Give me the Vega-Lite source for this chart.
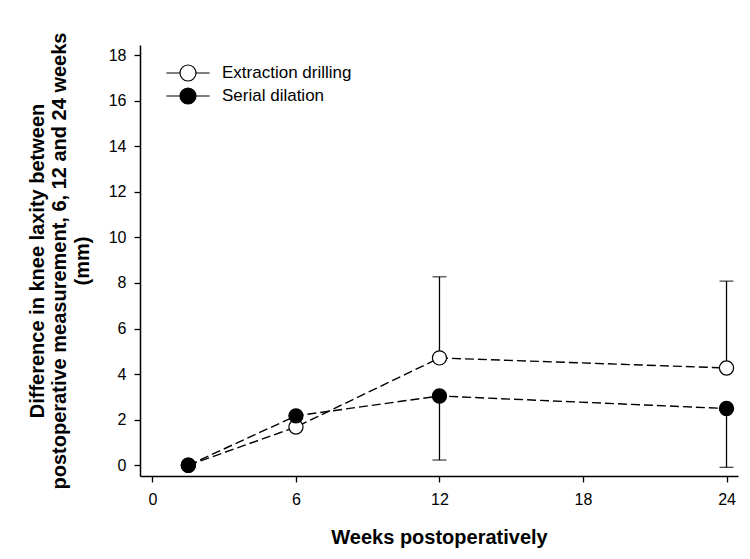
{
  "$schema": "https://vega.github.io/schema/vega-lite/v6.json",
  "width": 598,
  "height": 431,
  "autosize": {"type": "none"},
  "padding": {"left": 140, "top": 45, "right": 12, "bottom": 83},
  "background": "white",
  "config": {
    "font": "Liberation Sans",
    "view": {"stroke": null},
    "axis": {
      "domainColor": "black",
      "domainWidth": 1.5,
      "tickColor": "black",
      "tickWidth": 1.3,
      "tickSize": 6,
      "labelColor": "black",
      "labelFont": "Liberation Sans",
      "labelFontSize": 16,
      "titleColor": "black",
      "titleFont": "Liberation Sans",
      "titleFontSize": 20,
      "titleFontWeight": "bold",
      "grid": false
    }
  },
  "datasets": {
    "means": [
      {"series": "Extraction drilling", "week": 1.5, "value": 0},
      {"series": "Extraction drilling", "week": 6, "value": 1.68},
      {"series": "Extraction drilling", "week": 12, "value": 4.71},
      {"series": "Extraction drilling", "week": 24, "value": 4.27},
      {"series": "Serial dilation", "week": 1.5, "value": 0},
      {"series": "Serial dilation", "week": 6, "value": 2.17},
      {"series": "Serial dilation", "week": 12, "value": 3.04},
      {"series": "Serial dilation", "week": 24, "value": 2.49}
    ],
    "errors": [
      {"series": "Extraction drilling", "week": 12, "value": 4.71, "bound": 8.27},
      {"series": "Extraction drilling", "week": 24, "value": 4.27, "bound": 8.08},
      {"series": "Serial dilation", "week": 12, "value": 3.04, "bound": 0.23},
      {"series": "Serial dilation", "week": 24, "value": 2.49, "bound": -0.09}
    ]
  },
  "layer": [
    {
      "data": {"name": "means"},
      "mark": {"type": "line", "color": "black", "strokeWidth": 1.4, "strokeDash": [9, 4]},
      "encoding": {
        "x": {"field": "week", "type": "quantitative", "scale": {"domain": [-0.52, 24.48], "nice": false, "zero": false},
          "axis": {"values": [0, 6, 12, 18, 24], "title": "Weeks postoperatively", "labelPadding": 9, "titlePadding": 20}},
        "y": {"field": "value", "type": "quantitative", "scale": {"domain": [-0.47, 18.44], "nice": false, "zero": false},
          "axis": {"values": [0, 2, 4, 6, 8, 10, 12, 14, 16, 18],
            "title": ["Difference in knee laxity between", "postoperative measurement, 6, 12 and 24 weeks", "(mm)"],
            "titleLineHeight": 22.5, "labelPadding": 8, "titlePadding": 16}},
        "detail": {"field": "series"}
      }
    },
    {
      "data": {"name": "errors"},
      "mark": {"type": "rule", "color": "black", "strokeWidth": 1.3},
      "encoding": {
        "x": {"field": "week", "type": "quantitative"},
        "y": {"field": "value", "type": "quantitative"},
        "y2": {"field": "bound"}
      }
    },
    {
      "data": {"name": "errors"},
      "mark": {"type": "tick", "orient": "horizontal", "color": "black", "size": 14, "thickness": 1.3},
      "encoding": {
        "x": {"field": "week", "type": "quantitative"},
        "y": {"field": "bound", "type": "quantitative"}
      }
    },
    {
      "data": {"name": "means"},
      "mark": {"type": "point", "filled": true, "size": 200, "stroke": "black", "strokeWidth": 1.2, "opacity": 1},
      "encoding": {
        "x": {"field": "week", "type": "quantitative"},
        "y": {"field": "value", "type": "quantitative"},
        "fill": {"field": "series", "type": "nominal",
          "scale": {"domain": ["Extraction drilling", "Serial dilation"], "range": ["white", "black"]},
          "legend": {
            "title": null,
            "orient": "none",
            "legendX": 39,
            "legendY": 19,
            "padding": 0,
            "symbolType": "M-2.7,0H-1M1,0H2.7M1,0A1,1,0,1,1,-1,0A1,1,0,1,1,1,0Z",
            "symbolSize": 256,
            "symbolStrokeColor": "black",
            "symbolStrokeWidth": 1.2,
            "symbolOpacity": 1,
            "labelFontSize": 17,
            "labelColor": "black",
            "labelFont": "Liberation Sans",
            "labelOffset": 25,
            "rowPadding": 1
          }
        }
      }
    }
  ]
}
